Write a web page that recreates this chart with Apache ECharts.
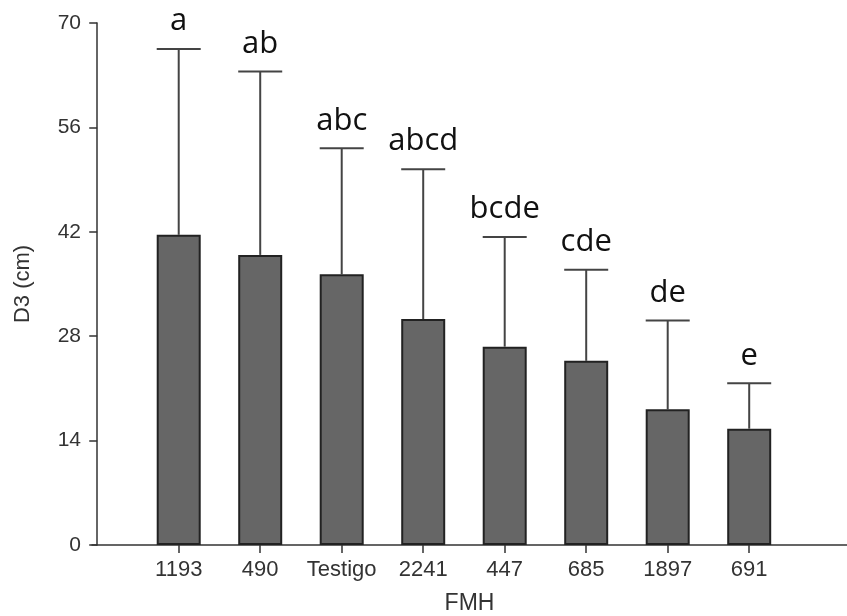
<!DOCTYPE html>
<html>
<head>
<meta charset="utf-8">
<script src="https://cdn.jsdelivr.net/npm/echarts@6/dist/echarts.min.js"></script>
<style>html,body{margin:0;padding:0;background:#fff;}#c{width:847px;height:616px;}</style>
</head>
<body>
<div id="c"></div>
<script>
var categories = ['1193', '490', 'Testigo', '2241', '447', '685', '1897', '691'];
var means = [41.6, 38.9, 36.3, 30.3, 26.6, 24.7, 18.2, 15.6];
var errors = [24.9, 24.6, 16.9, 20.1, 14.7, 12.2, 11.9, 6.1];
var letters = ['a', 'ab', 'abc', 'abcd', 'bcde', 'cde', 'de', 'e'];
var yTicks = [0, 14, 28, 42, 56, 70];

var positions = categories.map(function (c, i) { return i + 1; });
var barData = means.map(function (m, i) { return [positions[i], m]; });
var errData = means.map(function (m, i) { return [positions[i], m, m + errors[i], letters[i]]; });

var chart = echarts.init(document.getElementById('c'));
var BW = 44;
chart.setOption({
  animation: false,
  backgroundColor: '#fff',
  grid: { left: 92, right: 0, top: 23, bottom: 71, outerBoundsMode: 'none', containLabel: false },
  xAxis: {
    type: 'value',
    min: -0.064,
    max: 9.2,
    name: 'FMH',
    nameLocation: 'middle',
    nameGap: 47,
    nameTextStyle: { fontFamily: 'Liberation Sans', fontSize: 23, color: '#333' },
    axisLine: { show: true, onZero: false, lineStyle: { color: '#333', width: 1.5 } },
    axisTick: { show: true, customValues: positions, length: 8, lineStyle: { color: '#333', width: 1.5 } },
    axisLabel: {
      customValues: positions,
      formatter: function (v) { return categories[Math.round(v) - 1] || ''; },
      fontFamily: 'Liberation Sans', fontSize: 22, color: '#333', margin: 14
    },
    splitLine: { show: false }
  },
  yAxis: {
    type: 'value',
    min: 0,
    max: 70,
    interval: 14,
    name: 'D3 (cm)',
    nameLocation: 'middle',
    nameGap: 58,
    nameTextStyle: { fontFamily: 'Liberation Sans', fontSize: 22, color: '#333' },
    axisLine: { show: true, lineStyle: { color: '#333', width: 1.5 } },
    axisTick: { show: true, length: 8, lineStyle: { color: '#333', width: 1.5 } },
    axisLabel: {
      formatter: function (v) { return yTicks.indexOf(v) >= 0 ? String(v) : ''; },
      fontFamily: 'Liberation Sans', fontSize: 21, color: '#333', margin: 11
    },
    splitLine: { show: false }
  },
  series: [
    {
      type: 'custom',
      data: errData,
      z: 1,
      renderItem: function (params, api) {
        var base = api.coord([api.value(0), api.value(1)]);
        var top = api.coord([api.value(0), api.value(2)]);
        return {
          type: 'group',
          children: [
            { type: 'line', shape: { x1: base[0], y1: base[1], x2: top[0], y2: top[1] }, style: { stroke: '#444', lineWidth: 2 } },
            { type: 'line', shape: { x1: top[0] - BW / 2, y1: top[1], x2: top[0] + BW / 2, y2: top[1] }, style: { stroke: '#444', lineWidth: 2 } },
            { type: 'text', x: top[0], y: top[1] - 12, style: { text: api.value(3), fontFamily: 'Open Sans', fontSize: 31, fill: '#111', align: 'center', verticalAlign: 'bottom' } }
          ]
        };
      }
    },
    {
      type: 'bar',
      data: barData,
      barWidth: BW,
      z: 2,
      itemStyle: { color: '#666666', borderColor: '#222', borderWidth: 2 }
    }
  ]
});
</script>
</body>
</html>
